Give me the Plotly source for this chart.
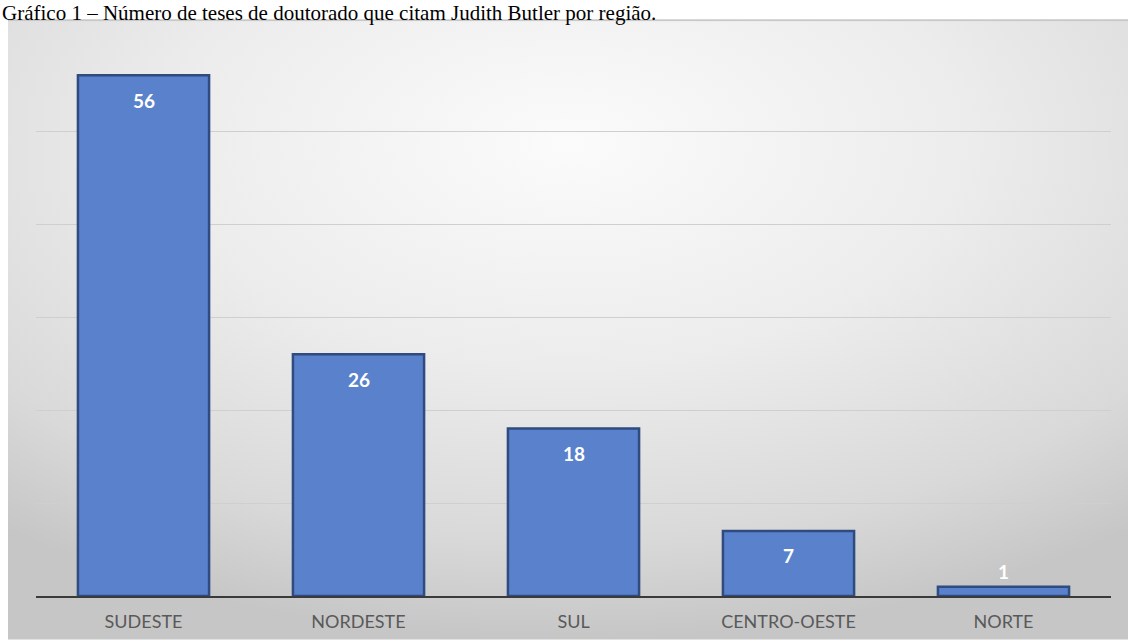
import base64
import plotly.graph_objects as go

regioes = ["SUDESTE", "NORDESTE", "SUL", "CENTRO-OESTE", "NORTE"]
teses = [56, 26, 18, 7, 1]
y_ticks = [0, 10, 20, 30, 40, 50, 60]
titulo = "Gráfico 1 – Número de teses de doutorado que citam Judith Butler por região."

W, H = 1128, 644
L, R, T, B = 36, 17, 38, 44
pw, ph = W - L - R, H - T - B

def px_x(p):
    return (p - L) / pw

def px_y(p):
    return (H - B - p) / ph

BG_TOP = 19

svg = (
    "<svg xmlns='http://www.w3.org/2000/svg' width='1120' height='632' viewBox='0 0 1120 632' preserveAspectRatio='none'>"
    "<defs><radialGradient id='g' cx='0.5' cy='0.2' r='0.8'>"
    "<stop offset='0' stop-color='#fbfbfb'/>"
    "<stop offset='0.45' stop-color='#ececec'/>"
    "<stop offset='0.8' stop-color='#d9d9d9'/>"
    "<stop offset='1' stop-color='#c6c6c6'/>"
    "</radialGradient></defs>"
    "<rect width='1120' height='632' fill='url(#g)'/>"
    "<rect width='1120' height='2' fill='#c8c8c8'/>"
    "</svg>"
)
src = "data:image/svg+xml;base64," + base64.b64encode(svg.encode()).decode()

fig = go.Figure()
fig.add_trace(go.Bar(
    x=regioes, y=teses,
    marker=dict(color="#5981cc", line=dict(color="#2f4b80", width=2.5)),
    width=0.61,
    hoverinfo="x+y",
))

label_font = dict(family="Lato, Open Sans, sans-serif", size=19, color="white", weight="bold")
annotations = []
for reg, val in zip(regioes, teses):
    if val >= 5:
        annotations.append(dict(x=reg, y=val, xref="x", yref="y", text=str(val),
                                showarrow=False, yanchor="middle", yshift=-25, font=label_font))
    else:
        annotations.append(dict(x=reg, y=val, xref="x", yref="y", text=str(val),
                                showarrow=False, yanchor="middle", yshift=15, font=label_font))

annotations.append(dict(
    text=titulo, xref="paper", yref="paper",
    x=px_x(0), y=px_y(-1), xanchor="left", yanchor="top",
    showarrow=False, font=dict(family="Liberation Serif, Times New Roman, serif", size=21, color="black"),
))

fig.update_layout(
    width=W, height=H,
    margin=dict(l=L, r=R, t=T, b=B),
    paper_bgcolor="white",
    plot_bgcolor="rgba(0,0,0,0)",
    showlegend=False,
    xaxis=dict(
        showgrid=False, showline=True, linecolor="#3a3a3a", linewidth=2,
        ticks="", ticklabelstandoff=8,
        tickfont=dict(family="Lato, Open Sans, sans-serif", size=18, color="#595959"),
        range=[-0.5, 4.5],
    ),
    yaxis=dict(
        range=[0, 60], tickvals=y_ticks, showticklabels=False,
        showgrid=True, gridcolor="#cfcfcf", gridwidth=1, zeroline=False,
    ),
    images=[dict(
        source=src, xref="paper", yref="paper",
        x=px_x(8), y=px_y(BG_TOP), sizex=px_x(W) - px_x(8), sizey=px_y(BG_TOP) - px_y(H),
        xanchor="left", yanchor="top", sizing="stretch", layer="below",
    )],
    annotations=annotations,
)

fig.write_html("out.html", config={"displayModeBar": False},
               post_script="document.body.style.margin='0';document.body.style.overflow='hidden';")
